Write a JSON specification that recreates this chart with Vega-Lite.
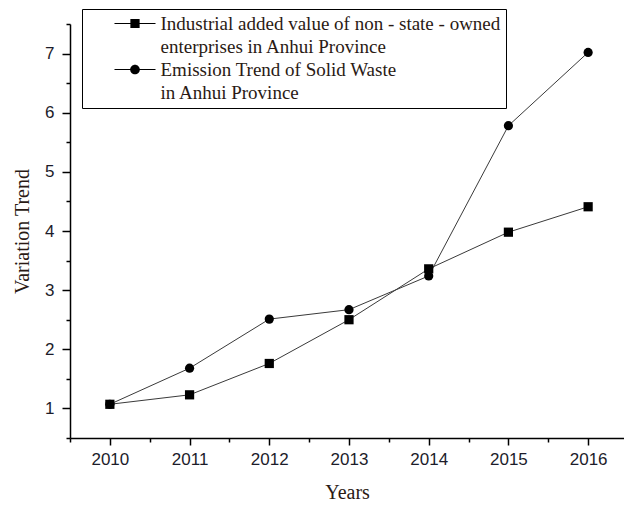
{
  "$schema": "https://vega.github.io/schema/vega-lite/v6.json",
  "width": 554,
  "height": 414,
  "autosize": {"type": "none"},
  "padding": {"left": 70, "top": 24, "right": 0, "bottom": 68},
  "background": "white",
  "config": {
    "view": {"stroke": null},
    "style": {"guide-label": {"lineHeight": 23.5}},
    "axis": {
      "grid": false,
      "domainColor": "black",
      "domainWidth": 1.5,
      "tickColor": "black",
      "tickWidth": 1.5,
      "labelFont": "Liberation Sans",
      "labelFontSize": 17,
      "labelColor": "#1c1c2a",
      "titleFont": "Liberation Serif",
      "titleFontSize": 20,
      "titleFontWeight": "normal",
      "titleColor": "#2a1a14"
    }
  },
  "data": {
    "values": [
      {"year": 2010, "series": "Industrial", "value": 1.07},
      {"year": 2011, "series": "Industrial", "value": 1.23},
      {"year": 2012, "series": "Industrial", "value": 1.76},
      {"year": 2013, "series": "Industrial", "value": 2.50},
      {"year": 2014, "series": "Industrial", "value": 3.36},
      {"year": 2015, "series": "Industrial", "value": 3.98},
      {"year": 2016, "series": "Industrial", "value": 4.41},
      {"year": 2010, "series": "Emission", "value": 1.07},
      {"year": 2011, "series": "Emission", "value": 1.68},
      {"year": 2012, "series": "Emission", "value": 2.51},
      {"year": 2013, "series": "Emission", "value": 2.67},
      {"year": 2014, "series": "Emission", "value": 3.24},
      {"year": 2015, "series": "Emission", "value": 5.78},
      {"year": 2016, "series": "Emission", "value": 7.02}
    ]
  },
  "encoding": {
    "x": {
      "field": "year",
      "type": "quantitative",
      "scale": {"domain": [2009.5, 2016.45], "nice": false, "zero": false},
      "axis": {
        "title": "Years",
        "titlePadding": 15,
        "values": [2009.5, 2010, 2010.5, 2011, 2011.5, 2012, 2012.5, 2013, 2013.5, 2014, 2014.5, 2015, 2015.5, 2016],
        "labelExpr": "datum.value % 1 === 0 ? format(datum.value, 'd') : ''",
        "tickSize": {"condition": {"test": "datum.value % 1 === 0", "value": 7}, "value": 4},
        "labelPadding": 6,
        "labelFlush": false
      }
    },
    "y": {
      "field": "value",
      "type": "quantitative",
      "scale": {"domain": [0.5, 7.5], "nice": false, "zero": false},
      "axis": {
        "title": "Variation Trend",
        "titlePadding": 12,
        "values": [0.5, 1, 1.5, 2, 2.5, 3, 3.5, 4, 4.5, 5, 5.5, 6, 6.5, 7, 7.5],
        "labelExpr": "datum.value % 1 === 0 ? format(datum.value, 'd') : ''",
        "tickSize": {"condition": {"test": "datum.value % 1 === 0", "value": 8}, "value": 4},
        "labelPadding": 8,
        "labelFlush": false
      }
    }
  },
  "layer": [
    {
      "mark": {"type": "line", "stroke": "#3a3a3a", "strokeWidth": 1},
      "encoding": {"detail": {"field": "series"}}
    },
    {
      "mark": {"type": "point", "filled": true, "fill": "black", "opacity": 1, "size": 85},
      "encoding": {
        "shape": {
          "field": "series",
          "scale": {"domain": ["Industrial", "Emission"], "range": ["square", "circle"]},
          "legend": null
        }
      }
    },
    {
      "mark": {"type": "point", "filled": true, "fill": "black", "opacity": 0, "size": 196},
      "encoding": {
        "shape": {
          "field": "series",
          "scale": {
            "domain": ["Industrial", "Emission"],
            "range": [
              "M-2.93,-0.07H2.93V0.07H-2.93Z M-0.66,-0.66H0.66V0.66H-0.66Z",
              "M-2.93,-0.07H2.93V0.07H-2.93Z M0.69,0A0.69,0.69,0,1,1,-0.69,0A0.69,0.69,0,1,1,0.69,0Z"
            ]
          },
          "legend": {
            "title": null,
            "orient": "none",
            "legendX": 12,
            "legendY": -15,
            "padding": 5,
            "strokeColor": "black",
            "fillColor": "white",
            "symbolOffset": 38.5,
            "symbolFillColor": "black",
            "symbolStrokeColor": "black",
            "symbolStrokeWidth": 0,
            "symbolSize": 196,
            "labelFont": "Liberation Serif",
            "labelFontSize": 19,
            "labelColor": "#2a1a14",
            "labelOffset": 16,
            "labelLimit": 520,
            "rowPadding": 3,
            "labelExpr": "datum.label === 'Industrial' ? ['Industrial added value of non - state - owned      ', 'enterprises in Anhui Province'] : ['Emission Trend of Solid Waste', 'in Anhui Province']"
          }
        }
      }
    }
  ],
  "resolve": {"scale": {"shape": "independent"}, "legend": {"shape": "independent"}}
}
